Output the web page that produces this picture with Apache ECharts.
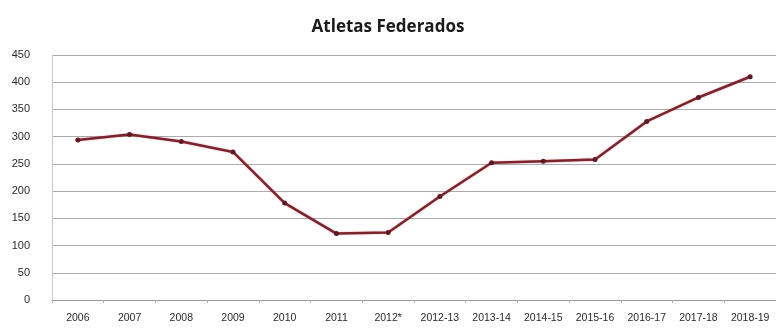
<!DOCTYPE html>
<html>
<head>
<meta charset="utf-8">
<script src="https://cdn.jsdelivr.net/npm/echarts@6/dist/echarts.min.js"></script>
<style>
  html, body { margin: 0; padding: 0; background: #ffffff; }
  #chart { width: 776px; height: 329px; }
</style>
</head>
<body>
<div id="chart"></div>
<script>
// Season labels along the horizontal axis
const seasons = ['2006', '2007', '2008', '2009', '2010', '2011', '2012*',
  '2012-13', '2013-14', '2014-15', '2015-16', '2016-17', '2017-18', '2018-19'];

// Federated athletes per season
const athletes = [294, 304, 291, 272, 178, 122, 124, 190, 252, 255, 258, 328, 372, 410];

// Value axis ticks
const yMin = 0;
const yMax = 450;
const yStep = 50;

const chart = echarts.init(document.getElementById('chart'), null, { renderer: 'canvas' });

chart.setOption({
  backgroundColor: '#ffffff',
  animation: false,
  title: {
    text: 'Atletas Federados',
    left: 'center',
    top: 14,
    textStyle: {
      fontFamily: 'Open Sans',
      fontSize: 17,
      fontWeight: 'bold',
      color: '#1a1a1a'
    }
  },
  grid: {
    left: 52,
    right: 0,
    top: 55,
    bottom: 29
  },
  xAxis: {
    type: 'category',
    data: seasons,
    boundaryGap: true,
    axisLine: { show: true, lineStyle: { color: '#9a9a9a', width: 1 } },
    axisTick: { show: true, length: 3, lineStyle: { color: '#b0b0b0' } },
    axisLabel: {
      interval: 0,
      fontFamily: 'Liberation Sans',
      fontSize: 10.5,
      color: '#2a2a2a',
      margin: 13
    },
    splitLine: { show: false }
  },
  yAxis: {
    type: 'value',
    min: yMin,
    max: yMax,
    interval: yStep,
    axisLine: { show: true, lineStyle: { color: '#c8c8c8', width: 1 } },
    axisTick: { show: false },
    axisLabel: {
      fontFamily: 'Liberation Sans',
      fontSize: 11,
      color: '#2a2a2a',
      margin: 22
    },
    splitLine: { show: true, lineStyle: { color: '#ababab', width: 1 } }
  },
  series: [{
    name: 'Atletas Federados',
    type: 'line',
    data: athletes,
    symbol: 'circle',
    symbolSize: 5,
    lineStyle: {
      color: '#7a2430',
      width: 2.5,
      shadowColor: 'rgba(220, 60, 70, 0.45)',
      shadowBlur: 2
    },
    itemStyle: { color: '#5e1a24' }
  }]
});
</script>
</body>
</html>
